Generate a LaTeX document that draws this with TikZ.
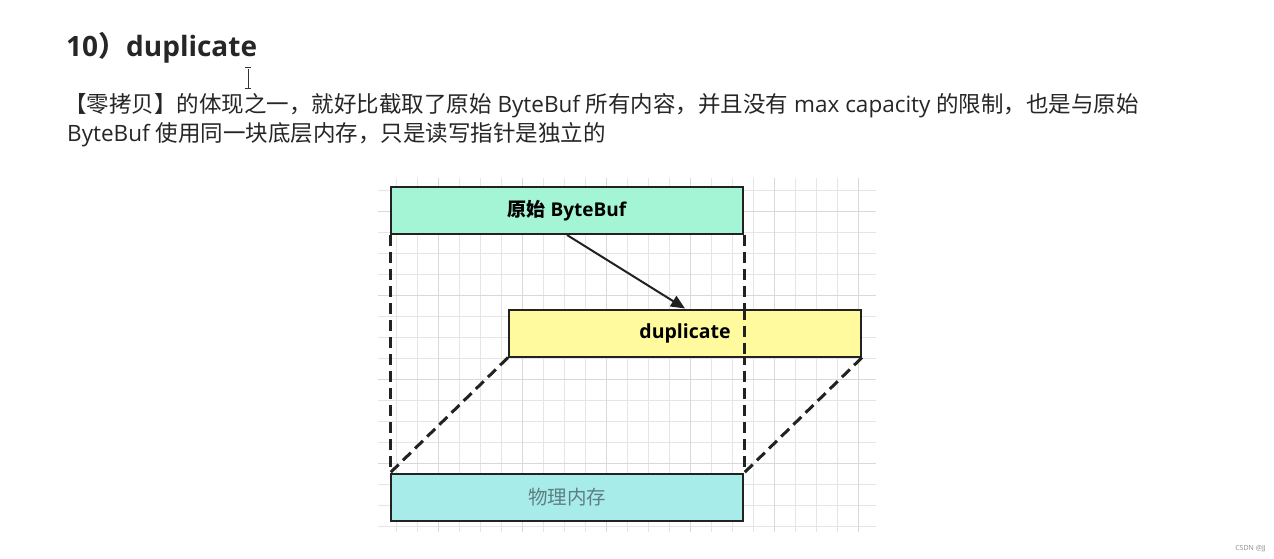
\documentclass[tikz,border=0pt]{standalone}
\usepackage{fontspec}
\setmainfont{Open Sans}
\newfontfamily\cjk{Noto Sans CJK SC}
\usetikzlibrary{arrows.meta}
\definecolor{edge}{HTML}{222222}
\definecolor{mint}{HTML}{A3F5D6}
\definecolor{lemon}{HTML}{FFFA9E}
\definecolor{aqua}{HTML}{A8ECE9}
\definecolor{memtext}{HTML}{5E7F82}
\definecolor{bodytext}{HTML}{262626}
\tikzset{
  buf/.style={draw=edge, line width=2pt, minimum width=352pt, minimum height=47pt, inner sep=0pt, font=\fontsize{19.5}{22}\selectfont},
  guide/.style={draw=edge, line width=3pt, dash pattern=on 11pt off 6pt},
  txt/.style={anchor=base west, inner sep=0pt, text=bodytext},
}
\begin{document}
\begin{tikzpicture}[x=1pt,y=-1pt]
\useasboundingbox[fill=white] (0,0) rectangle (1274,559);
% grid
\begin{scope}
\clip (378,178) rectangle (876,532);
\foreach \x in {375,396,...,880} \draw[black!10, line width=0.8pt] (\x,178) -- (\x,532);
\foreach \y in {169,190,...,540} \draw[black!10, line width=0.8pt] (378,\y) -- (876,\y);
\foreach \x in {438,522,606,690,774,858} \draw[black!15, line width=0.9pt] (\x,178) -- (\x,532);
\foreach \y in {211,295,379,463} \draw[black!15, line width=0.9pt] (378,\y) -- (876,\y);
\end{scope}
% texts
\node[txt, font=\fontsize{28}{30}\selectfont\bfseries] (title) at (66,57) {10{\cjk\bfseries ）}duplicate};
\node[txt, font=\fontsize{22.5}{26}\selectfont] (line1) at (64,113) {{\cjk 【零拷贝】的体现之一，就好比截取了原始} ByteBuf {\cjk 所有内容，并且没有} max capacity {\cjk 的限制，也是与原始}};
\node[txt, font=\fontsize{22.5}{26}\selectfont] (line2) at (67,142) {ByteBuf {\cjk 使用同一块底层内存，只是读写指针是独立的}};
% cursor
\draw[black!80, line width=1pt] (248,69) -- (248,88) (245,68) -- (251,68) (245,89) -- (251,89);
% boxes
\node[buf, fill=mint, font=\fontsize{19}{22}\selectfont\bfseries] (orig) at (567,210.5) {\raisebox{-4pt}{{\cjk\bfseries 原始} ByteBuf}};
\node[buf, fill=aqua, text=memtext] (mem) at (567,497.5) {\raisebox{-1pt}{\cjk 物理内存}};
\coordinate (o1) at (orig.south west);
\coordinate (o2) at (orig.south east);
\coordinate (m1) at (mem.north west);
\coordinate (m2) at (mem.north east);
\draw[guide] (o1) -- (m1);
\draw[guide] (o2) -- (m2);
\node[buf, fill=lemon, font=\fontsize{19.5}{22}\selectfont\bfseries] (dup) at (685,333) {\raisebox{-3pt}{duplicate}};
\draw[guide] (dup.south west) -- (m1);
\draw[guide] (dup.south east) -- (m2);
\draw[guide] (orig.south east |- dup.north) -- (orig.south east |- dup.south);
\draw[edge, line width=2pt, -{Triangle[length=14pt,width=12pt]}] (orig.south) -- (dup.north);
% watermark
\node[anchor=base east, inner sep=0pt, text=black!45, font=\fontsize{7}{8}\selectfont] (wm) at (1266,550) {CSDN @JJ};
\end{tikzpicture}
\end{document}
